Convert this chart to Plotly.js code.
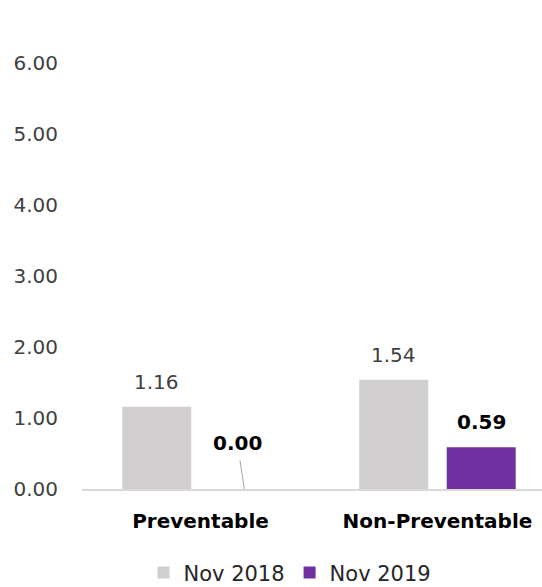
<!DOCTYPE html>
<html><head><meta charset="utf-8">
<script src="https://cdn.plot.ly/plotly-3.0.1.min.js"></script>
<style>html,body{margin:0;padding:0;background:#fff}</style>
</head><body>
<div id="chart" style="width:542px;height:587px"></div>
<script>
const categories = ["Preventable", "Non-Preventable"];
const seriesNames = ["Nov 2018", "Nov 2019"];
const nov2018 = [1.16, 1.54];
const nov2019 = [0.00, 0.59];
const yTicks = [0, 1, 2, 3, 4, 5, 6];

const FONT = "DejaVu Sans";
const gray = "#D0CECE", purple = "#7030A0";
const off = 0.185;

const traces = [
  {type: "bar", name: seriesNames[0], x: categories, y: nov2018, marker: {color: gray}, hoverinfo: "none"},
  {type: "bar", name: seriesNames[1], x: categories, y: nov2019, marker: {color: purple}, hoverinfo: "none"}
];

const annotations = [];
nov2018.forEach((v, i) => annotations.push({
  x: i - off, y: v, xref: "x", yref: "y", text: v.toFixed(2), showarrow: false,
  yanchor: "bottom", yshift: 11, font: {family: FONT, size: 20, color: "#404040"}
}));
nov2019.forEach((v, i) => {
  if (v === 0) {
    annotations.push({
      x: i + off, y: v, xref: "x", yref: "y", text: "<b>" + v.toFixed(2) + "</b>",
      showarrow: true, arrowhead: 0, arrowwidth: 1, arrowcolor: "#A6A6A6",
      ax: -7, ay: -46, standoff: 0, startstandoff: 4,
      font: {family: FONT, size: 20, color: "#000"}
    });
  } else {
    annotations.push({
      x: i + off, y: v, xref: "x", yref: "y", text: "<b>" + v.toFixed(2) + "</b>", showarrow: false,
      yanchor: "bottom", yshift: 11, font: {family: FONT, size: 20, color: "#000"}
    });
  }
});

const layout = {
  width: 542, height: 587,
  margin: {l: 82, r: 0, t: 27.5, b: 97.5, pad: 0},
  paper_bgcolor: "#fff", plot_bgcolor: "#fff",
  barmode: "group", bargap: 0.262, bargroupgap: 0.211,
  showlegend: true,
  legend: {orientation: "h", xref: "container", yref: "container",
           x: 0.535, xanchor: "center", y: 0.024, yanchor: "middle",
           font: {family: FONT, size: 21, color: "#262626"}, itemwidth: 30, traceorder: "normal"},
  xaxis: {
    type: "category", range: [-0.5, 1.441], showline: true, linecolor: "#D9D9D9", linewidth: 1.5,
    showgrid: false, zeroline: false, ticks: "", ticklabelstandoff: 13,
    tickfont: {family: FONT, size: 20, color: "#000", weight: "bold"}, fixedrange: true
  },
  yaxis: {
    range: [0, 6.5], tickvals: yTicks, tickformat: ".2f", showgrid: false, zeroline: false,
    showline: false, ticks: "", ticklabelstandoff: 23,
    tickfont: {family: FONT, size: 20, color: "#404040"}, fixedrange: true
  },
  annotations: annotations
};

Plotly.newPlot("chart", traces, layout, {displayModeBar: false, staticPlot: true});
</script>
</body></html>
